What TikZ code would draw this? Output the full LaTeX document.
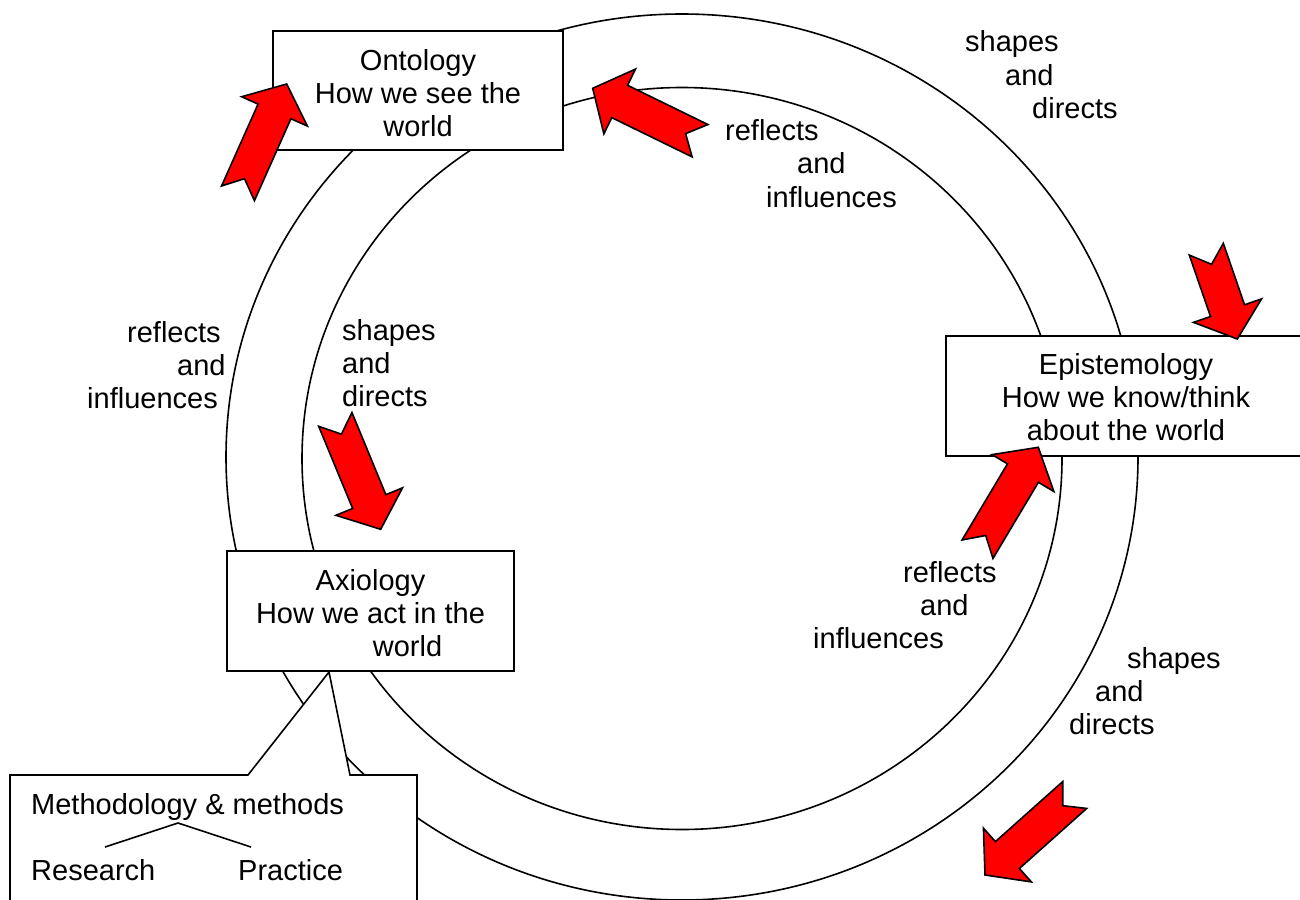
\documentclass[tikz,border=0pt]{standalone}
\usepackage{fontspec}
\setmainfont{Liberation Sans}
\usetikzlibrary{calc}

% notched block arrow from the middle of its tail (#1) to its tip (#2)
\newcommand\notchedarrow[2]{%
  \coordinate (ta) at (#1);
  \coordinate (tp) at (#2);
  \coordinate (hb) at ($(tp)!30pt!(ta)$);
  \coordinate (nt) at ($(ta)!16pt!(tp)$);
  \draw[blockarrow] (tp) -- ($(hb)!36pt!90:(tp)$) -- ($(hb)!18pt!90:(tp)$)
    -- ($(ta)!18pt!90:(tp)$) -- (nt) -- ($(ta)!18pt!-90:(tp)$)
    -- ($(hb)!18pt!-90:(tp)$) -- ($(hb)!36pt!-90:(tp)$) -- cycle;}

\begin{document}
\begin{tikzpicture}[x=1pt,y=-1pt,
  every node/.style={font=\fontsize{29}{33}\selectfont},
  frame/.style={draw,fill=white,line width=1.6pt,inner sep=0pt},
  boxtext/.style={align=center,inner sep=0pt},
  ring/.style={line width=1.6pt},
  lbl/.style={anchor=base west,inner sep=0pt},
  blockarrow/.style={draw,fill=red,line width=1.6pt,line join=miter}]
\useasboundingbox (0,0) rectangle (1300,899);
\clip (0,0) rectangle (1300,899);

% the two cycles
\draw[ring] (682,457) ellipse [x radius=456pt, y radius=443pt];
\draw[ring] (682,458.5) ellipse [x radius=380pt, y radius=371pt];

% callout hanging below Axiology
\coordinate (ca) at (329,672);
\draw[line width=1.6pt,fill=white] (10,910) -- (10,775) -- (248,775) -- (ca)
  -- (350,775) -- (417,775) -- (417,910);

% the three boxes and their texts
\node[frame,minimum width=290pt,minimum height=119pt] (onto) at (418,90.5) {};
\node[boxtext] (ontot) at (418,93) {Ontology\\How we see the\\world};
\node[frame,minimum width=360pt,minimum height=120pt] (epis) at (1126,396) {};
\node[boxtext] (epist) at (1126,397) {Epistemology\\How we know/think\\about the world};
\node[frame,minimum width=287pt,minimum height=120pt] (axio) at (370.5,611) {};
\node[boxtext] (axiot) at (370.5,613) {Axiology\\How we act in the\\\hspace*{74pt}world};

% block arrows
\notchedarrow{238,193.3}{286.7,84}
\notchedarrow{700,140.7}{592.7,88.3}
\notchedarrow{1206.3,249.2}{1237.3,339}
\notchedarrow{335.3,419.4}{380.7,529.3}
\notchedarrow{977.5,549.2}{1038.3,447.3}
\notchedarrow{1074.7,795}{985,875}

% labels along the outer cycle
\node[lbl] (sa1) at (965,52) {shapes};
\node[lbl] (sa2) at (1005,85) {and};
\node[lbl] (sa3) at (1032,118) {directs};

\node[lbl] (ra1) at (127,342) {reflects};
\node[lbl] (ra2) at (177,375) {and};
\node[lbl] (ra3) at (87,408) {influences};

\node[lbl] (sb1) at (1127,668) {shapes};
\node[lbl] (sb2) at (1095,701) {and};
\node[lbl] (sb3) at (1069,734) {directs};

% labels along the inner cycle
\node[lbl] (rb1) at (725,140) {reflects};
\node[lbl] (rb2) at (797,173) {and};
\node[lbl] (rb3) at (766,207) {influences};

\node[lbl] (sc1) at (342,340) {shapes};
\node[lbl] (sc2) at (342,373) {and};
\node[lbl] (sc3) at (342,406) {directs};

\node[lbl] (rc1) at (903,582) {reflects};
\node[lbl] (rc2) at (920,615) {and};
\node[lbl] (rc3) at (813,648) {influences};

% methodology callout contents
\node[lbl] (meth) at (31,814) {Methodology \& methods};
\node[lbl] (res) at (31,880) {Research};
\node[lbl] (prac) at (238,880) {Practice};
\coordinate (fork) at (178,823);
\coordinate (fl) at (105,847);
\coordinate (fr) at (251,847);
\draw[line width=1.6pt] (fl) -- (fork) -- (fr);
\end{tikzpicture}
\end{document}
